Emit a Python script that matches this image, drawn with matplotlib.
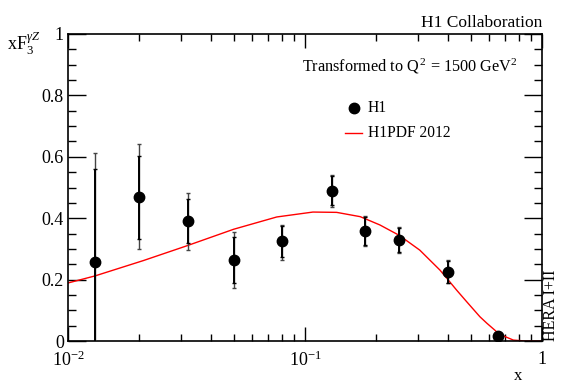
import numpy as np
import matplotlib
matplotlib.use("Agg")
import matplotlib.pyplot as plt
from matplotlib.ticker import LogLocator, MultipleLocator, FixedLocator, FixedFormatter, NullFormatter

plt.rcParams['font.family'] = ['Liberation Serif', 'DejaVu Serif']
plt.rcParams['mathtext.fontset'] = 'custom'
plt.rcParams['mathtext.rm'] = 'Liberation Serif'
plt.rcParams['mathtext.it'] = 'Liberation Serif:italic'

# H1 data
x_data = [0.013, 0.02, 0.032, 0.05, 0.08, 0.13, 0.18, 0.25, 0.40, 0.65]
y_data = [0.257, 0.469, 0.392, 0.265, 0.326, 0.489, 0.359, 0.329, 0.226, 0.017]
stat_up = [0.560, 0.604, 0.461, 0.340, 0.375, 0.536, 0.405, 0.368, 0.262, 0.025]
stat_dn = [-0.05, 0.333, 0.320, 0.190, 0.275, 0.443, 0.312, 0.291, 0.190, 0.010]
tot_up = [0.611, 0.642, 0.483, 0.356, 0.378, 0.541, 0.408, 0.371, 0.264, 0.027]
tot_dn = [-0.10, 0.300, 0.296, 0.172, 0.264, 0.437, 0.309, 0.288, 0.188, 0.008]

# H1PDF 2012 curve
x_curve = [0.01, 0.013, 0.0208, 0.0317, 0.05, 0.076, 0.108, 0.136, 0.171, 0.207, 0.25,
           0.305, 0.371, 0.396, 0.436, 0.481, 0.547, 0.585, 0.644, 0.70, 0.757, 0.85, 1.0]
y_curve = [0.189, 0.212, 0.262, 0.310, 0.364, 0.404, 0.420, 0.419, 0.405, 0.378, 0.344,
           0.296, 0.231, 0.205, 0.166, 0.128, 0.079, 0.058, 0.030, 0.014, 0.003, 0.0, 0.0]

fig = plt.figure(figsize=(5.67, 3.84), dpi=100)
ax = fig.add_axes([68/567, 1-341/384, (542-68)/567, (341-34)/384])

ax.plot(x_curve, y_curve, color='red', lw=1.0, zorder=2)

xd = np.array(x_data); yd = np.array(y_data)
ax.errorbar(xd, yd, yerr=[yd-np.array(tot_dn), np.array(tot_up)-yd], fmt='none',
            ecolor='#444444', elinewidth=1.0, capsize=1.5, capthick=1.0, zorder=3)
ax.errorbar(xd, yd, yerr=[yd-np.array(stat_dn), np.array(stat_up)-yd], fmt='none',
            ecolor='black', elinewidth=1.4, capsize=1.5, capthick=1.0, zorder=4)
ax.plot(xd, yd, 'o', color='black', ms=7.5, zorder=5)

ax.set_xscale('log')
ax.set_xlim(0.01, 1)
ax.set_ylim(0, 1)

ax.xaxis.set_major_locator(FixedLocator([0.01, 0.1, 1]))
ax.xaxis.set_major_formatter(FixedFormatter([r'$10^{-2}$', r'$10^{-1}$', '1']))
ax.xaxis.set_minor_locator(LogLocator(base=10, subs=np.arange(2, 10)))
ax.xaxis.set_minor_formatter(NullFormatter())
ax.set_yticks([0, 0.2, 0.4, 0.6, 0.8, 1.0])
ax.set_yticklabels(['0', '0.2', '0.4', '0.6', '0.8', '1'])
ax.yaxis.set_minor_locator(MultipleLocator(0.05))

ax.tick_params(which='both', direction='in', top=True, right=True, labelsize=13, width=1.0)
ax.tick_params(which='major', axis='y', length=13, pad=3)
ax.tick_params(which='minor', axis='y', length=6)
ax.tick_params(which='major', axis='x', length=10, pad=7)
ax.tick_params(which='minor', axis='x', length=5)
for s in ax.spines.values():
    s.set_linewidth(1.2)

fig.text(542/567, 1-23/384, 'H1 Collaboration', ha='right', va='center', fontsize=12.5)
fig.text(518/567, 1-376/384, 'x', ha='center', va='center', fontsize=12)
fig.text(7/567, 1-43/384, r'xF$_3^{\gamma Z}$', ha='left', va='center', fontsize=13)
fig.text(302/567, 1-66/384, r'Transformed to Q$^{\,2}$ = 1500 GeV$^2$', ha='left', va='center', fontsize=11.7)
fig.text(551/567, 1-305/384, 'HERA I+II', ha='center', va='center', rotation=90, fontsize=11.5)

# legend
fig.lines.append(plt.Line2D([354/567], [1-108/384], marker='o', color='black', ms=7.5,
                            transform=fig.transFigure, figure=fig))
fig.lines.append(plt.Line2D([345/567, 362/567], [1-133/384, 1-133/384], color='red', lw=1.0,
                            transform=fig.transFigure, figure=fig))
fig.text(368/567, 1-108/384, 'H1', ha='left', va='center', fontsize=11.2)
fig.text(368/567, 1-133/384, 'H1PDF 2012', ha='left', va='center', fontsize=11.2)

fig.savefig('out.png', dpi=100)
